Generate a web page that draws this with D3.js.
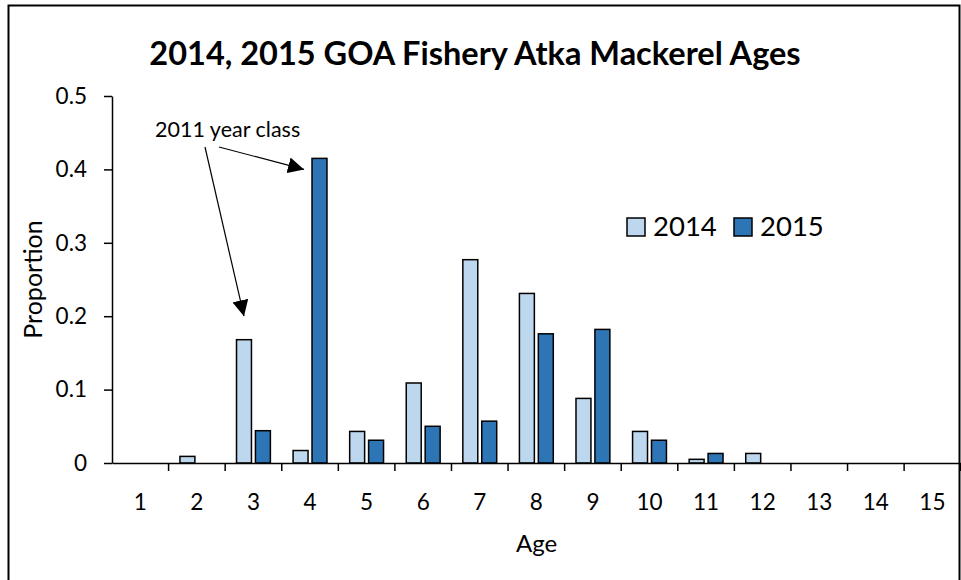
<!DOCTYPE html>
<html>
<head>
<meta charset="utf-8">
<script src="https://cdn.jsdelivr.net/npm/d3@7"></script>
<style>
  body { margin: 0; background: #fff; }
  text { font-family: Lato, "Liberation Sans", sans-serif; fill: #000; }
</style>
</head>
<body>
<div id="chart"></div>
<script>
// Data
const ages = [1, 2, 3, 4, 5, 6, 7, 8, 9, 10, 11, 12, 13, 14, 15];
const seriesNames = ["2014", "2015"];
const values2014 = [0, 0.009, 0.168, 0.017, 0.043, 0.109, 0.277, 0.231, 0.088, 0.043, 0.005, 0.013, 0, 0, 0];
const values2015 = [0, 0, 0.044, 0.415, 0.031, 0.050, 0.057, 0.176, 0.182, 0.031, 0.013, 0, 0, 0, 0];
const yTicks = [0, 0.1, 0.2, 0.3, 0.4, 0.5];
const yTickLabels = ["0", "0.1", "0.2", "0.3", "0.4", "0.5"];
const colors = ["#BDD7EE", "#2E75B6"];

const W = 961, H = 580;
const margin = { top: 96, right: 0, bottom: 117, left: 112 };
const width = 961 - margin.left - margin.right;
const height = H - margin.top - margin.bottom;

const root = d3.select("#chart").append("svg")
  .attr("width", W)
  .attr("height", H);

// outer frame
root.append("rect")
  .attr("x", 8.5).attr("y", 5.5)
  .attr("width", 951).attr("height", 620)
  .attr("fill", "none")
  .attr("stroke", "#000")
  .attr("stroke-width", 2);

const svg = root.append("g")
  .attr("transform", "translate(" + margin.left + "," + margin.top + ")");

// scales
const x0 = d3.scaleBand().domain(ages).range([0, width - 0.3]).padding(0);
const x1 = d3.scaleBand().domain(seriesNames).range([0, x0.bandwidth()])
  .paddingInner(0.21).paddingOuter(0.6);
const y = d3.scaleLinear().domain([0, 0.5]).range([height, 0]);

const rows = ages.map((a, i) => ({ age: a, vals: [values2014[i], values2015[i]] }));

// bars
svg.selectAll(".age")
  .data(rows)
  .enter().append("g")
  .attr("class", "age")
  .attr("transform", d => "translate(" + x0(d.age) + ",0)")
  .selectAll("rect")
  .data(d => d.vals.map((v, j) => ({ key: seriesNames[j], v: v, j: j })))
  .enter().append("rect")
  .filter(d => d.v > 0)
  .attr("x", d => x1(d.key))
  .attr("width", x1.bandwidth())
  .attr("y", d => y(d.v))
  .attr("height", d => y(0) - y(d.v))
  .attr("fill", d => colors[d.j])
  .attr("stroke", "#000")
  .attr("stroke-width", 1.5);

// y axis
const yAxis = svg.append("g")
  .call(d3.axisLeft(y).tickValues(yTicks).tickFormat((d, i) => yTickLabels[i])
    .tickSize(8).tickSizeOuter(0).tickPadding(17));
yAxis.select(".domain").attr("stroke-width", 1.5);
yAxis.selectAll(".tick line").attr("stroke-width", 1.5);
yAxis.selectAll("text").style("font-size", "22.5px").style("font-family", "Lato");

// x axis: line, boundary ticks, centered labels
const xAxis = svg.append("g")
  .attr("transform", "translate(0," + height + ")")
  .call(d3.axisBottom(x0).tickSize(0).tickSizeOuter(0).tickPadding(31));
xAxis.select(".domain").attr("stroke-width", 1.5);
xAxis.selectAll("text").style("font-size", "22.5px").style("font-family", "Lato");
xAxis.selectAll(".bound")
  .data(ages.map(a => x0(a) + x0.bandwidth()))
  .enter().append("line")
  .attr("class", "bound")
  .attr("x1", d => d).attr("x2", d => d)
  .attr("y1", 0).attr("y2", 8)
  .attr("stroke", "#000").attr("stroke-width", 1.5);

// title
root.append("text")
  .attr("x", 475).attr("y", 65)
  .attr("text-anchor", "middle")
  .style("font-weight", "bold")
  .style("font-size", "32.5px")
  .text("2014, 2015 GOA Fishery Atka Mackerel Ages");

// axis titles
svg.append("text")
  .attr("x", width / 2).attr("y", height + 89)
  .attr("text-anchor", "middle")
  .style("font-size", "24px")
  .text("Age");

svg.append("text")
  .attr("transform", "rotate(-90)")
  .attr("x", -height / 2).attr("y", -70)
  .attr("text-anchor", "middle")
  .style("font-size", "25px")
  .text("Proportion");

// legend
const legend = root.append("g").attr("transform", "translate(627,218)");
const legendX = [0, 107];
seriesNames.forEach((s, i) => {
  legend.append("rect")
    .attr("x", legendX[i]).attr("y", 0)
    .attr("width", 18).attr("height", 18)
    .attr("fill", colors[i]).attr("stroke", "#000").attr("stroke-width", 1.5);
  legend.append("text")
    .attr("x", legendX[i] + 26).attr("y", 18)
    .style("font-size", "27.5px")
    .text(s);
});

// annotation
const marker = root.append("defs").append("marker")
  .attr("id", "arrow")
  .attr("viewBox", "0 0 10 10")
  .attr("refX", 10).attr("refY", 5)
  .attr("markerWidth", 16).attr("markerHeight", 16)
  .attr("markerUnits", "userSpaceOnUse")
  .attr("orient", "auto");
marker.append("path").attr("d", "M0,0L10,5L0,10Z").attr("fill", "#000");

root.append("text")
  .attr("x", 155).attr("y", 137)
  .style("font-size", "21.5px")
  .text("2011 year class");

svg.append("line")
  .attr("x1", 205 - margin.left).attr("y1", 147 - margin.top)
  .attr("x2", x0(3) + x1("2014") + x1.bandwidth() / 2).attr("y2", y(0.2))
  .attr("stroke", "#000").attr("stroke-width", 1.2)
  .attr("marker-end", "url(#arrow)");

svg.append("line")
  .attr("x1", 219 - margin.left).attr("y1", 147 - margin.top)
  .attr("x2", x0(4) + x1("2015") - 8).attr("y2", y(0.4))
  .attr("stroke", "#000").attr("stroke-width", 1.2)
  .attr("marker-end", "url(#arrow)");
</script>
</body>
</html>
